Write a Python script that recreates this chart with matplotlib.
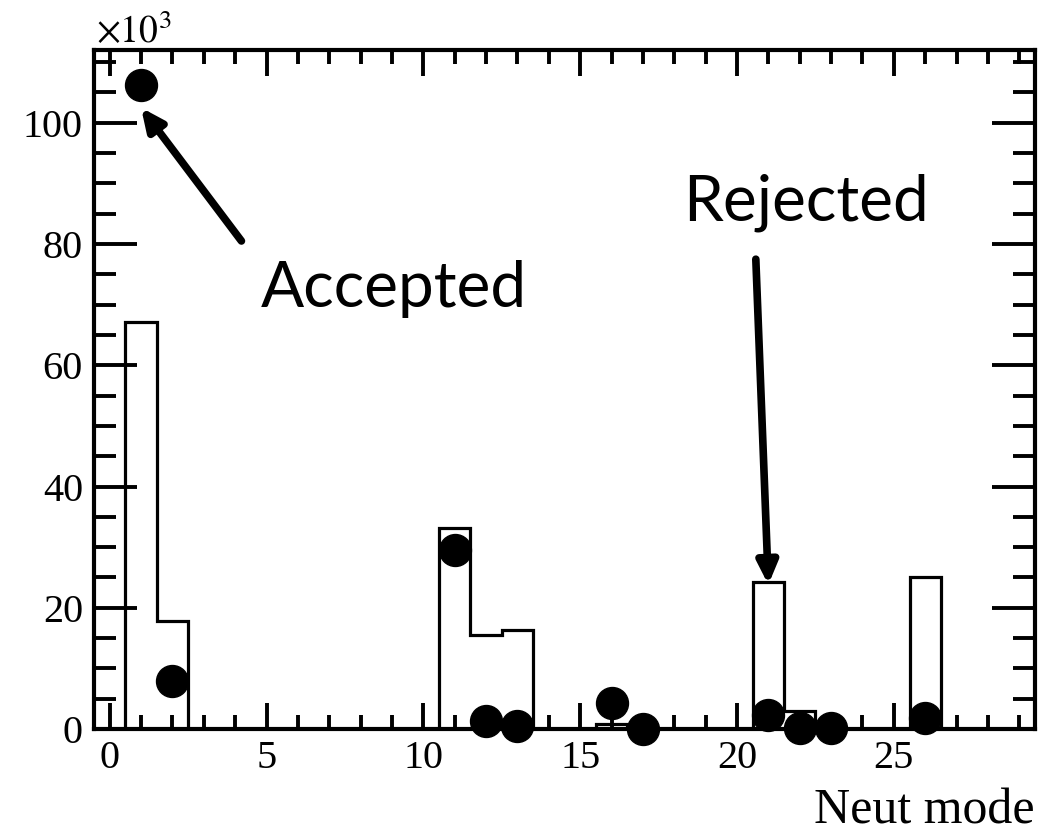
import matplotlib
matplotlib.use("Agg")
import matplotlib.pyplot as plt
import numpy as np

# NEUT interaction mode histogram (values in units of 10^3)
modes = np.arange(0, 30)
hist_vals = np.zeros(30)
hist_vals[[1, 2, 11, 12, 13, 16, 21, 22, 26]] = [67.2, 17.8, 33.2, 15.5, 16.3, 0.8, 24.2, 3.0, 25.0]

dot_modes = [1, 2, 11, 12, 13, 16, 17, 21, 22, 23, 26]
dot_vals = [106.3, 8.0, 29.5, 1.3, 0.5, 4.3, 0.0, 2.3, 0.1, 0.1, 1.8]

serif = ["Liberation Serif", "DejaVu Serif"]
sans = ["Lato", "DejaVu Sans"]

fig = plt.figure(figsize=(10.47, 8.34), dpi=100)
ax = fig.add_axes([0.0898, 0.1259, 0.8987, 0.8141])

# step outline of the histogram, bins centred on integer modes
edges = np.arange(-0.5, 30.5, 1.0)
ax.stairs(hist_vals, edges, color="black", linewidth=2.3)
ax.plot(dot_modes, dot_vals, "o", color="black", markersize=23, clip_on=False, zorder=5)

ax.set_xlim(-0.5, 29.5)
ax.set_ylim(0, 112)

ax.set_xticks(np.arange(0, 30, 5))
ax.set_xticks(np.arange(0, 30, 1), minor=True)
ax.set_yticks(np.arange(0, 101, 20))
ax.set_yticks(np.arange(0, 111, 5), minor=True)

ax.tick_params(which="both", direction="in", top=True, right=True, width=2.8,
               labelsize=29)
ax.tick_params(axis="x", which="major", length=19, pad=8)
ax.tick_params(axis="x", which="minor", length=10)
ax.tick_params(axis="y", which="major", length=31, pad=8)
ax.tick_params(axis="y", which="minor", length=16)
for lab in ax.get_xticklabels() + ax.get_yticklabels():
    lab.set_family(serif)
for sp in ax.spines.values():
    sp.set_linewidth(3)

fig.text(0.092, 0.948, r"$\times10^{3}$", fontsize=27, family=serif,
         math_fontfamily="stix")
ax.set_xlabel("Neut mode", fontsize=36, family=serif, loc="right", labelpad=8)

# annotations
arrow = dict(arrowstyle="-|>,head_length=1.3,head_width=0.6",
             color="black", lw=5.5, shrinkA=0, shrinkB=0)
ax.annotate("", xy=(1.0, 102.5), xytext=(4.2, 80.5), arrowprops=arrow)
ax.text(9.05, 72.5, "Accepted", fontsize=46, family=sans,
        ha="center", va="center")

ax.annotate("", xy=(21.0, 23.8), xytext=(20.6, 77.5), arrowprops=arrow)
ax.text(22.2, 86.8, "Rejected", fontsize=46, family=sans,
        ha="center", va="center")

fig.savefig("out.png", dpi=100)
